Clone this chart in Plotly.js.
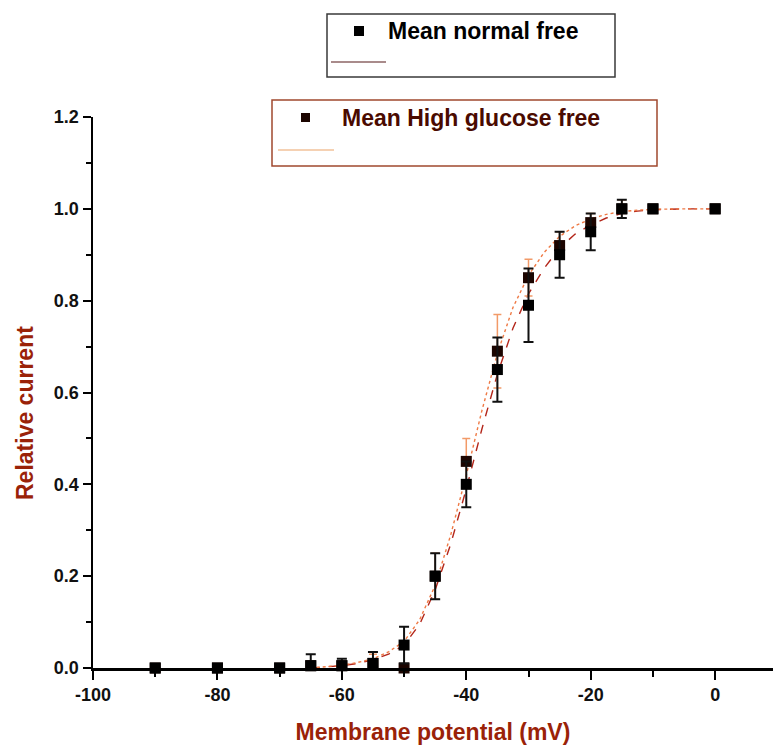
<!DOCTYPE html>
<html>
<head>
<meta charset="utf-8">
<script src="https://cdn.plot.ly/plotly-3.0.1.min.js"></script>
<style>html,body{margin:0;padding:0;background:#fff;}#chart{width:773px;height:747px;}</style>
</head>
<body>
<div id="chart"></div>
<script>
// ---- data ----
const potentials = [-90, -80, -70, -65, -60, -55, -50, -45, -40, -35, -30, -25, -20, -15, -10, 0];
const normalMean = [0, 0, 0, 0.005, 0.005, 0.01, 0.05, 0.20, 0.40, 0.65, 0.79, 0.90, 0.95, 1.0, 1.0, 1.0];
const normalErr  = [0, 0, 0, 0.025, 0.015, 0.025, 0.04, 0.05, 0.05, 0.07, 0.08, 0.05, 0.04, 0.02, 0, 0];
const glucoseMean = [0, 0, 0, 0.005, 0.005, 0.01, 0.0, 0.20, 0.45, 0.69, 0.85, 0.92, 0.97, 1.0, 1.0, 1.0];
const glucoseErr  = [0, 0, 0, 0.01, 0.01, 0.02, 0, 0.05, 0.05, 0.08, 0.04, 0.03, 0.02, 0.02, 0, 0];

const fitX = [-65, -62.5, -60, -57.5, -55, -52.5, -50, -47.5, -45, -42.5, -40, -37.5, -35, -32.5, -30, -27.5, -25, -22.5, -20, -17.5, -15, -12.5, -10, -5, 0];
const normalFit = [0.0, 0.002, 0.005, 0.01, 0.018, 0.03, 0.05, 0.095, 0.17, 0.27, 0.39, 0.52, 0.64, 0.74, 0.815, 0.87, 0.915, 0.945, 0.965, 0.98, 0.99, 0.995, 0.998, 1.0, 1.0];
const glucoseFit = [0.0, 0.003, 0.006, 0.012, 0.02, 0.035, 0.058, 0.105, 0.18, 0.29, 0.42, 0.56, 0.685, 0.785, 0.855, 0.905, 0.94, 0.963, 0.978, 0.988, 0.994, 0.997, 0.999, 1.0, 1.0];

const legendLabels = ["Mean normal free", "Mean High glucose free"];
const xTickVals = [-100, -80, -60, -40, -20, 0];
const xTickText = ["-100", "-80", "-60", "-40", "-20", "0"];
const xMinorVals = [-90, -70, -50, -30, -10];
const yTickVals = [0, 0.2, 0.4, 0.6, 0.8, 1.0, 1.2];
const yTickText = ["0.0", "0.2", "0.4", "0.6", "0.8", "1.0", "1.2"];
const yMinorVals = [0.1, 0.3, 0.5, 0.7, 0.9, 1.1];
const xTitle = "Membrane potential (mV)";
const yTitle = "Relative current";

// ---- styling ----
const FONT = "Liberation Sans, Arial, sans-serif";
const W = 773, H = 747, ML = 93, MR = 0, MT = 117, MB = 79;
const PW = W - ML - MR, PH = H - MT - MB;
const px = v => (v - ML) / PW;
const py = v => (H - MB - v) / PH;

const traces = [
  {x: fitX, y: normalFit, mode: 'lines', line: {color: '#b3261a', width: 1.4, dash: 'dash'}, hoverinfo: 'skip', showlegend: false},
  {x: fitX, y: glucoseFit, mode: 'lines', line: {color: '#ef7a45', width: 1.4, dash: 'dot'}, hoverinfo: 'skip', showlegend: false},
  {x: potentials, y: glucoseMean, mode: 'markers', name: legendLabels[1], cliponaxis: false,
   marker: {symbol: 'square', size: 11, color: '#1c0500'},
   error_y: {type: 'data', array: glucoseErr, visible: true, color: '#f29a68', thickness: 1.5, width: 4}},
  {x: potentials, y: normalMean, mode: 'markers', name: legendLabels[0], cliponaxis: false,
   marker: {symbol: 'square', size: 11, color: '#000000'},
   error_y: {type: 'data', array: normalErr, visible: true, color: '#111111', thickness: 2, width: 5}}
];

const shapes = [
  // legend box 1
  {type: 'rect', xref: 'paper', yref: 'paper', x0: px(327), x1: px(615), y0: py(14), y1: py(77), line: {color: '#3a3a3a', width: 1.5}, fillcolor: 'rgba(255,255,255,0)'},
  {type: 'rect', xref: 'paper', yref: 'paper', x0: px(354), x1: px(364), y0: py(26), y1: py(36), line: {width: 0}, fillcolor: '#000'},
  {type: 'line', xref: 'paper', yref: 'paper', x0: px(331), x1: px(386), y0: py(62), y1: py(62), line: {color: '#8c6464', width: 1.5}},
  // legend box 2
  {type: 'rect', xref: 'paper', yref: 'paper', x0: px(272), x1: px(657), y0: py(100), y1: py(166), line: {color: '#a0482e', width: 1.5}, fillcolor: 'rgba(255,255,255,0)'},
  {type: 'rect', xref: 'paper', yref: 'paper', x0: px(301), x1: px(310), y0: py(113), y1: py(122), line: {width: 0}, fillcolor: '#1c0500'},
  {type: 'line', xref: 'paper', yref: 'paper', x0: px(278), x1: px(334), y0: py(150), y1: py(150), line: {color: '#f2c29a', width: 1.5}}
];

const annotations = [
  {xref: 'paper', yref: 'paper', x: px(386), y: py(31), xanchor: 'left', yanchor: 'middle', showarrow: false,
   text: legendLabels[0], font: {family: FONT, size: 23, color: '#000', weight: 'bold'}},
  {xref: 'paper', yref: 'paper', x: px(340), y: py(118), xanchor: 'left', yanchor: 'middle', showarrow: false,
   text: legendLabels[1], font: {family: FONT, size: 23, color: '#4a0a00', weight: 'bold'}},
  {xref: 'paper', yref: 'paper', x: px(25), y: py(413), xanchor: 'center', yanchor: 'middle', showarrow: false, textangle: -90,
   text: yTitle, font: {family: FONT, size: 23, color: '#9a2208', weight: 'bold'}}
];

const layout = {
  width: W, height: H,
  margin: {l: ML, r: MR, t: MT, b: MB, pad: 0},
  paper_bgcolor: '#fff', plot_bgcolor: '#fff',
  showlegend: false,
  font: {family: FONT, color: '#000'},
  xaxis: {
    range: [-100, 9.3], showgrid: false, zeroline: false,
    showline: true, linecolor: '#000', linewidth: 2.5,
    ticks: 'outside', ticklen: 9, tickwidth: 2, tickcolor: '#000',
    tickvals: xTickVals, ticktext: xTickText,
    tickfont: {family: FONT, size: 18, color: '#111', weight: 'bold'},
    minor: {tickvals: xMinorVals, ticks: 'outside', ticklen: 6, tickwidth: 2, tickcolor: '#000', showgrid: false},
    title: {text: xTitle, standoff: 20, font: {family: FONT, size: 23, color: '#9a2208', weight: 'bold'}},
    automargin: false, fixedrange: true
  },
  yaxis: {
    range: [0, 1.2], showgrid: false, zeroline: false,
    showline: true, linecolor: '#000', linewidth: 2.5,
    ticks: 'outside', ticklen: 8, tickwidth: 2, tickcolor: '#000',
    tickvals: yTickVals, ticktext: yTickText,
    tickfont: {family: FONT, size: 18, color: '#111', weight: 'bold'},
    minor: {tickvals: yMinorVals, ticks: 'outside', ticklen: 5, tickwidth: 2, tickcolor: '#000', showgrid: false},
    automargin: false, fixedrange: true
  },
  shapes: shapes,
  annotations: annotations
};

Plotly.newPlot('chart', traces, layout, {displayModeBar: false, staticPlot: true});
</script>
</body>
</html>
